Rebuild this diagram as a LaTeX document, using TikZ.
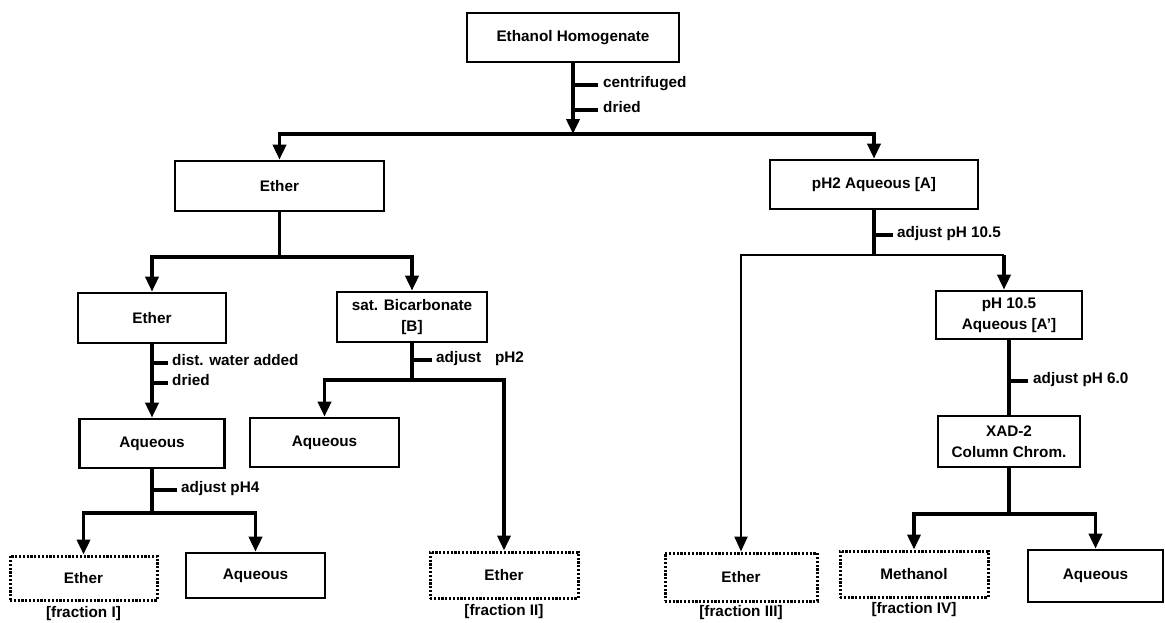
\documentclass[tikz,border=0pt]{standalone}
\usepackage{fontspec}
\setmainfont{Liberation Sans}
\usetikzlibrary{arrows.meta,calc}
\begin{document}
\begin{tikzpicture}[x=1pt,y=-1pt,
  txt/.style={font=\fontsize{15.3}{20.5}\selectfont\bfseries},
  box/.style={txt, draw, line width=2.6pt, align=center, inner sep=0pt},
  fbox/.style={box, line width=3pt, dash pattern=on 2.2pt off 1.6pt},
  conn/.style={line width=3.6pt},
  thin/.style={line width=2.2pt},
  arr/.style={conn, -{Triangle[length=15pt,width=13pt]}},
  thinarr/.style={thin, -{Triangle[length=15pt,width=13pt]}},
  tickmark/.style={line width=3.6pt},
  lbl/.style={txt, anchor=mid west, inner sep=0pt},
  frac/.style={txt, anchor=north, inner sep=0pt},
]
\useasboundingbox (0,0) rectangle (1165,622);
\fill[white] (0,0) rectangle (1165,622);

% boxes
\node[box, minimum width=212pt, minimum height=49pt] (eh) at (573,37.5) {Ethanol Homogenate};
\node[box, minimum width=209pt, minimum height=50pt] (ether1) at (279.5,186) {Ether};
\node[box, minimum width=208pt, minimum height=49pt] (acidA) at (874,184.5) {pH2 Aqueous [A]};
\node[box, minimum width=148pt, minimum height=50pt] (ether2) at (152,318) {Ether};
\node[box, minimum width=150pt, minimum height=50pt] (bicarb) at (412,317) {sat. Bicarbonate\\{[B]}};
\node[box, minimum width=145pt, minimum height=49pt] (aqL) at (152,443.5) {Aqueous};
\node[box, minimum width=149pt, minimum height=49pt] (aqM) at (324.5,442.5) {Aqueous};
\node[fbox, minimum width=147pt, minimum height=44pt] (etherI) at (83.5,578) {Ether};
\node[box, minimum width=139pt, minimum height=45pt] (aqB) at (255.5,575.5) {Aqueous};
\node[fbox, minimum width=148pt, minimum height=46pt] (etherII) at (504,575) {Ether};
\node[box, minimum width=146pt, minimum height=48pt] (ph105) at (1009,315) {pH 10.5\\Aqueous [A']};
\node[box, minimum width=142pt, minimum height=51pt] (xad) at (1009,441.5) {XAD-2\\Column Chrom.};
\node[fbox, minimum width=152pt, minimum height=48pt] (etherIII) at (741,577) {Ether};
\node[fbox, minimum width=148pt, minimum height=46pt] (meth) at (914,574) {Methanol};
\node[box, minimum width=135pt, minimum height=52pt] (aqR) at (1095.5,576) {Aqueous};

% fraction labels
\node[frac] (fI) at ([yshift=-5pt]etherI.south) {[fraction I]};
\node[frac] (fII) at ([yshift=-5pt]etherII.south) {[fraction II]};
\node[frac] (fIII) at ([yshift=-3pt]etherIII.south) {[fraction III]};
\node[frac] (fIV) at ([yshift=-4pt]meth.south) {[fraction IV]};

% connectors
\coordinate (j1) at (573,134);
\draw[arr] (eh.south) -- (j1);
\draw[arr] (j1) -| (ether1.north);
\draw[arr] (j1) -| (acidA.north);
\draw[tickmark] (573,85) -- (598,85);
\node[lbl] (c1) at (603,85) {centrifuged};
\draw[tickmark] (573,110) -- (598,110);
\node[lbl] (c2) at (603,110) {dried};

\coordinate (j2) at (279.5,257);
\draw[conn] (ether1.south) -- (j2);
\draw[arr] (j2) -| (ether2.north);
\draw[arr] (j2) -| (bicarb.north);

\draw[arr] (ether2.south) -- (aqL.north);
\draw[tickmark] (152,363) -- (168,363);
\node[lbl] (c3) at (172,363) {dist. water added};
\draw[tickmark] (152,383) -- (168,383);
\node[lbl] (c4) at (172,383) {dried};

\coordinate (j3) at (152,513);
\draw[conn] (aqL.south) -- (j3);
\draw[arr] (j3) -| (etherI.north);
\draw[arr] (j3) -| (aqB.north);
\draw[tickmark] (152,490) -- (177,490);
\node[lbl] (c5) at (181,490) {adjust pH4};

\coordinate (j4) at (412,380);
\draw[conn] (bicarb.south) -- (j4);
\draw[arr] (j4) -| (aqM.north);
\draw[arr] (j4) -| (etherII.north);
\draw[tickmark] (412,360) -- (432,360);
\node[lbl] (c6) at (436,360) {adjust\hspace{0.9em}pH2};

\coordinate (j5) at (874,255);
\draw[conn] (acidA.south) -- (j5);
\draw[thinarr] (j5) -| (etherIII.north);
\coordinate (j6) at ([xshift=-5pt]ph105.north |- j5);
\draw[thin] (j5) -- (j6);
\draw[arr] (j6) -- ([xshift=-5pt]ph105.north);
\draw[tickmark] (874,235) -- (893,235);
\node[lbl] (c7) at (897,235) {adjust pH 10.5};

\draw[conn] (ph105.south) -- (xad.north);
\draw[tickmark] (1009,381) -- (1028,381);
\node[lbl] (c8) at (1033,381) {adjust pH 6.0};

\coordinate (j7) at (1009,514);
\draw[conn] (xad.south) -- (j7);
\draw[arr] (j7) -| (meth.north);
\draw[arr] (j7) -| (aqR.north);
\end{tikzpicture}
\end{document}
